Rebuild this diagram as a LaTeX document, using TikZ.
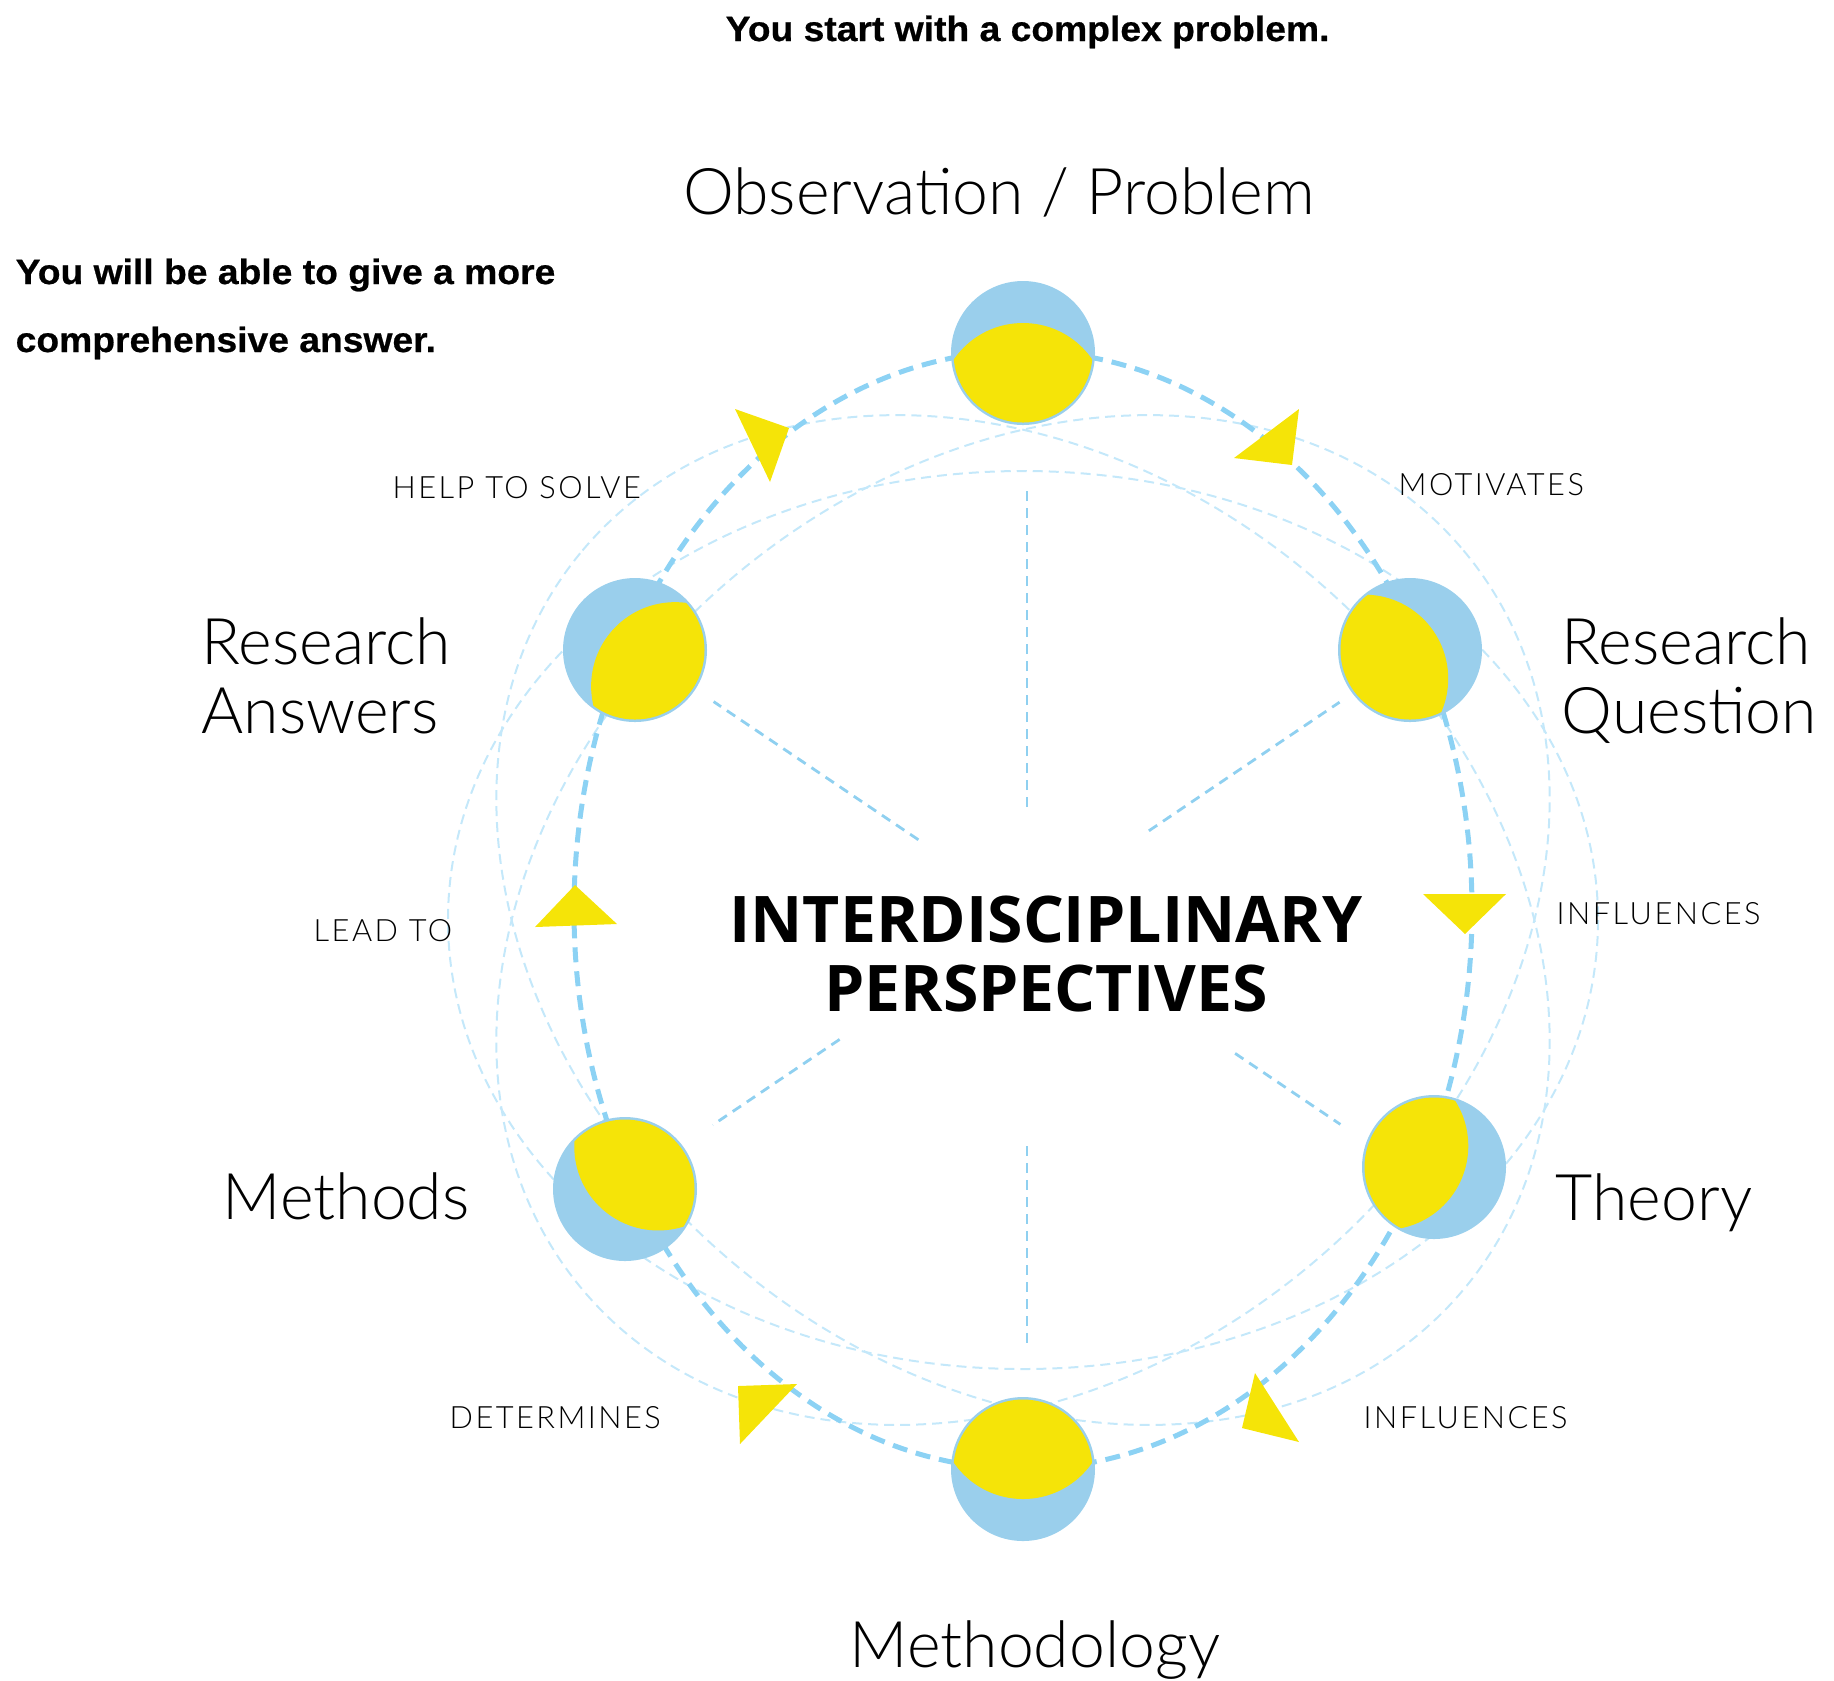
\documentclass[tikz,border=0pt]{standalone}
\usepackage{fontspec}
\setmainfont{Lato}
\newfontfamily\lightfont{Lato Light}
\newfontfamily\spacedfont[LetterSpace=8]{Lato Light}
\newfontfamily\boldsans{Open Sans}
\newfontfamily\notefont[FakeStretch=1.06, FakeBold=0.6]{Liberation Sans}
\usetikzlibrary{calc}
\definecolor{ballblue}{RGB}{154,207,236}
\definecolor{sunyellow}{RGB}{245,228,8}
\definecolor{ringblue}{RGB}{140,210,244}
\definecolor{faintblue}{RGB}{196,232,250}
\definecolor{spokeblue}{RGB}{143,208,240}
\begin{document}
\begin{tikzpicture}[x=0.1mm, y=-0.1mm, line join=round,
    ring/.style={ringblue, line width=0.5mm, dash pattern=on 1.5mm off 0.9mm},
    faint/.style={faintblue, line width=0.2mm, dash pattern=on 1mm off 0.6mm},
    spoke/.style={spokeblue, line width=0.28mm, dash pattern=on 1mm off 0.7mm},
    stage/.style={font=\lightfont\fontsize{18.3}{19.6}\selectfont, inner sep=0pt, align=left},
    verb/.style={font=\spacedfont\fontsize{8.75}{10}\selectfont, inner sep=0pt},
    note/.style={font=\notefont\bfseries\fontsize{10}{19.35}\selectfont, inner sep=0pt, align=left}]
	\useasboundingbox (0,0) rectangle (1834,1680);
	%%%%%%%%%%%%%%%%%%%%%%%%%%%%%%%%%
	\coordinate (hub) at (1027,913);
	\coordinate (halo) at (1023,920);
	\coordinate (ringc) at (1023,910);
	\coordinate (obs) at (1023,353);
	\coordinate (rq) at (1410,650);
	\coordinate (theory) at (1434,1167);
	\coordinate (mgy) at (1023,1469);
	\coordinate (methods) at (625,1189);
	\coordinate (ra) at (635,650);
	%%%%%%%%%%%%%%%%%%%%%%%%%%%%%%%%%
	\foreach \r in {0,40,140}
		\draw[faint, rotate around={\r:(halo)}] (halo) ellipse [x radius=575, y radius=449];
	\foreach \a/\ri/\ro in {-90/106/428, -34/147/377, 34/251/378, 90/233/430, 146/226/379, 214/131/378}
		\draw[spoke] ($(hub)+(\a:\ri)$) -- ($(hub)+(\a:\ro)$);
	%%%%%%%%%%%%%%%%%%%%%%%%%%%%%%%%%
	\draw[ring] (ringc) ellipse [x radius=449, y radius=559];
	\foreach \ax/\ay/\bx/\by/\cx/\cy in {735/409/789/428/770/482, 1299/409/1234/458/1292/465,
		1423/894/1506/894/1465/934, 1255/1373/1242/1428/1299/1442,
		738/1386/797/1384/740/1444, 575/885/535/927/617/924}
		\fill[sunyellow] (\ax,\ay) -- (\bx,\by) -- (\cx,\cy) -- cycle;
	%%%%%%%%%%%%%%%%%%%%%%%%%%%%%%%%%
	\foreach \b/\a in {obs/90, rq/148, theory/203, mgy/270, methods/308, ra/42} {
		\fill[ballblue] (\b) circle (72);
		\begin{scope}
			\clip (\b) circle (69.5);
			\fill[sunyellow] ($(\b)+(\a:54)$) circle (84);
		\end{scope}
	}
	%%%%%%%%%%%%%%%%%%%%%%%%%%%%%%%%%
	\node[stage, anchor=base] (obsL) at (999,214) {Observation / Problem};
	\node[stage, anchor=base west] (rqL) at (1561,733) {Research\\Question};
	\node[stage, anchor=base west] (theoryL) at (1555,1220) {Theory};
	\node[stage, anchor=base] (mgyL) at (1035,1667) {Methodology};
	\node[stage, anchor=base west] (methodsL) at (222,1219) {Methods};
	\node[stage, anchor=base west] (raL) at (201,733) {Research\\Answers};
	%%%%%%%%%%%%%%%%%%%%%%%%%%%%%%%%%
	\node[verb, anchor=base west] (motivL) at (1398,495) {MOTIVATES};
	\node[verb, anchor=base west] (inflL) at (1556,924) {INFLUENCES};
	\node[verb, anchor=base west] (inflM) at (1363,1428) {INFLUENCES};
	\node[verb, anchor=base west] (detL) at (449,1428) {DETERMINES};
	\node[verb, anchor=base west] (leadL) at (313,941) {LEAD TO};
	\node[verb, anchor=base west] (helpL) at (392,498) {HELP TO SOLVE};
	%%%%%%%%%%%%%%%%%%%%%%%%%%%%%%%%%
	\node[font=\boldsans\bfseries\fontsize{18.3}{19.5}\selectfont, align=center, inner sep=0pt, anchor=base] (core) at (1046,1011) {INTERDISCIPLINARY\\PERSPECTIVES};
	\node[note, anchor=base west] (startN) at (725,41) {You start with a complex problem.};
	\node[note, anchor=base west] (endN) at (15,352) {You will be able to give a more\\comprehensive answer.};
	%%%%%%%%%%%%%%%%%%%%%%%%%%%%%%%%%
\end{tikzpicture}
\end{document}
